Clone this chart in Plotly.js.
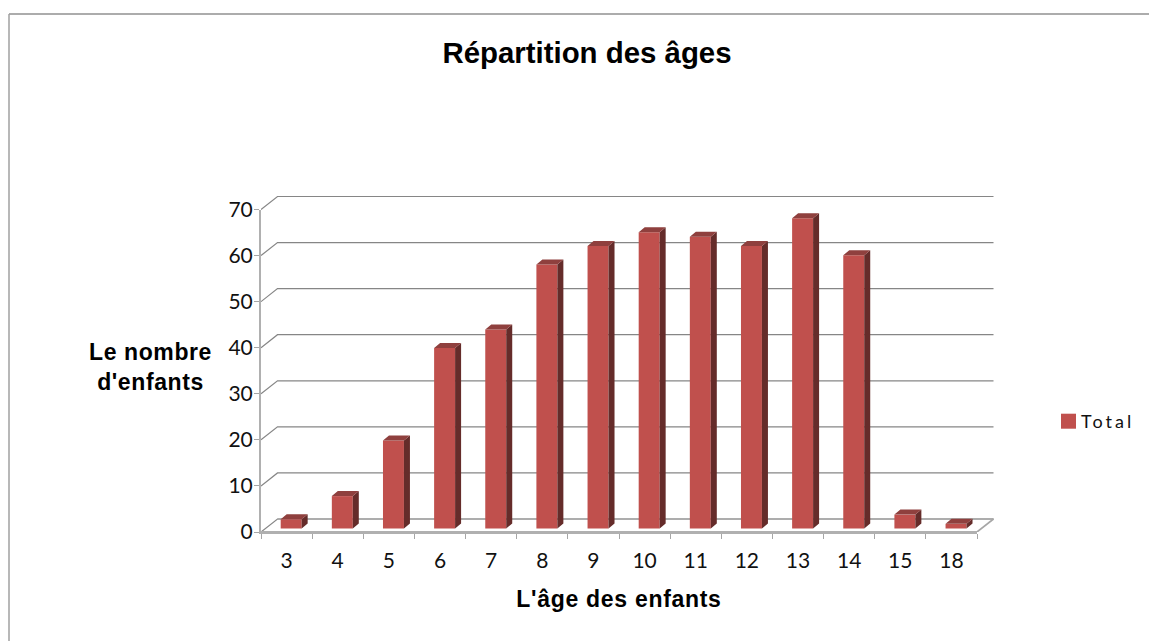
<!DOCTYPE html>
<html>
<head>
<meta charset="utf-8">
<script src="https://cdn.plot.ly/plotly-3.0.1.min.js"></script>
<style>
html,body{margin:0;padding:0;background:#fff}
#chart{width:1149px;height:641px}
.legendtext{letter-spacing:3px}
.legendpoints path{transform:translate(27.5px,0) scale(1.25)}
.annotation-text{letter-spacing:0.6px}
.g-x2title text{letter-spacing:0.7px}
</style>
</head>
<body>
<div id="chart"></div>
<script>
const ages = ['3','4','5','6','7','8','9','10','11','12','13','14','15','18'];
const totals = [2,7,19,39,43,57,61,64,63,61,67,59,3,1];
const yTicks = [0,10,20,30,40,50,60,70];

const W = 1149, H = 641;
// outer plotting box (holds the perspective walls)
const M = {l:261, r:153, t:194, b:109};
const pw = W-M.l-M.r, ph = H-M.t-M.b;
// front face of the chart
const frontW = 716, frontH = 322.5;
const idx = ages.map((_,i)=>i);
const xPx = frontW/ages.length;
const yPx = frontH/70;

// perspective of the bars, in axis units
const barW = 0.41, barShift = 0.09;
const barScale = 4.63, barBasePx = 3.5;
const dxBar = 6/xPx, dyBar = 5/barScale;
// perspective of the walls
const dxWall = 16.5/xPx, dyWall = 13/yPx;

// walls (axes x, y: outer box)
const gx=[], gy=[];
yTicks.forEach(v=>{
  gx.push(-0.5,-0.5+dxWall,ages.length-0.5+dxWall,null);
  gy.push(v,v+dyWall,v+dyWall,null);
});
const walls = {type:'scatter',mode:'lines',x:gx,y:gy,xaxis:'x',yaxis:'y',
  line:{color:'#868686',width:1.2},hoverinfo:'skip',showlegend:false};
const floorEdge = {type:'scatter',mode:'lines',
  x:[ages.length-0.5,ages.length-0.5+dxWall,null,-0.5+dxWall,ages.length-0.5+dxWall],
  y:[0,dyWall,null,dyWall,dyWall],xaxis:'x',yaxis:'y',
  line:{color:'#A6A6A6',width:1.6},hoverinfo:'skip',showlegend:false};
// front edge of the floor (axes x2, y2: front face)
const frontEdge = {type:'scatter',mode:'lines',x:[-0.5,ages.length-0.5],y:[0,0],xaxis:'x2',yaxis:'y2',
  line:{color:'#B0B0B0',width:2},hoverinfo:'skip',showlegend:false};

// bars + faces (axes x3, y3)
const sideX=[],sideY=[],topX=[],topY=[];
idx.forEach(i=>{
  const l=i+barShift-barW/2, r=i+barShift+barW/2, v=totals[i];
  sideX.push(r,r+dxBar,r+dxBar,r,r,null);
  sideY.push(0,dyBar,v+dyBar,v,0,null);
  topX.push(l,l+dxBar,r+dxBar,r,l,null);
  topY.push(v,v+dyBar,v+dyBar,v,v,null);
});
const bars = {type:'bar',name:'Total',x:idx,y:totals,xaxis:'x3',yaxis:'y3',
  width:barW,offset:barShift-barW/2,marker:{color:'#C0504D',line:{width:0}},showlegend:true};
const side = {type:'scatter',mode:'lines',x:sideX,y:sideY,xaxis:'x3',yaxis:'y3',fill:'toself',
  fillcolor:'#652C2A',line:{width:0,color:'#652C2A'},hoverinfo:'skip',showlegend:false};
const top_ = {type:'scatter',mode:'lines',x:topX,y:topY,xaxis:'x3',yaxis:'y3',fill:'toself',
  fillcolor:'#8F403E',line:{width:0,color:'#8F403E'},hoverinfo:'skip',showlegend:false};

const px = v=>(v-M.l)/pw, py = v=>1-(v-M.t)/ph;
const tickFont = {family:'Lato, "Open Sans", sans-serif',size:21,color:'#111'};
const boldFont = s=>({family:'"Liberation Sans", Arial, sans-serif',size:s,color:'#000',weight:700});
const xRange=[-0.5,ages.length-0.5];
const xDom=[0,frontW/pw], yDom=[0,frontH/ph];

const layout = {
  width:W,height:H,paper_bgcolor:'#fff',plot_bgcolor:'rgba(0,0,0,0)',
  margin:M,showlegend:true,barmode:'overlay',hovermode:false,
  title:{text:'Répartition des âges',font:boldFont(29.4),x:587/W,xref:'container',xanchor:'center',
         y:1-53/H,yref:'container',yanchor:'middle',pad:{t:0,b:0,l:0,r:0}},
  xaxis:{domain:[0,1],range:[-0.5,-0.5+pw/xPx],type:'linear',visible:false,anchor:'y'},
  yaxis:{domain:[0,1],range:[0,ph/yPx],type:'linear',visible:false,anchor:'x'},
  xaxis2:{domain:xDom,range:xRange,type:'linear',anchor:'y2',tickmode:'array',
    tickvals:[...idx.map(i=>i-0.5),ages.length-0.5],ticktext:[...idx.map(()=>''),''],
    ticks:'outside',ticklen:5,tickwidth:1.2,tickcolor:'#A6A6A6',showgrid:false,zeroline:false,
    showline:true,linecolor:'#B0B0B0',linewidth:2,
    title:{text:"L'âge des enfants",font:boldFont(23),standoff:50}},
  yaxis2:{domain:yDom,range:[0,70],type:'linear',anchor:'x2',tickmode:'array',tickvals:yTicks,ticks:'outside',ticklen:5,tickwidth:1.2,
    tickcolor:'#A6A6A6',showgrid:false,zeroline:false,showline:true,linecolor:'#B0B0B0',linewidth:2,
    tickfont:tickFont,ticklabelstandoff:-3},
  xaxis3:{range:xRange,type:'linear',overlaying:'x2',anchor:'y3',side:'bottom',tickmode:'array',tickvals:idx,ticktext:ages,
    ticks:'',showgrid:false,zeroline:false,showline:false,tickfont:tickFont,ticklabelstandoff:14},
  yaxis3:{range:[-barBasePx/barScale,(frontH-barBasePx)/barScale],type:'linear',overlaying:'y2',anchor:'x3',
    visible:false,showgrid:false,zeroline:false},
  legend:{xref:'container',yref:'container',x:1041/W,xanchor:'left',y:1-421.5/H,yanchor:'middle',bgcolor:'rgba(0,0,0,0)',
    font:{family:'Lato, "Open Sans", sans-serif',size:18,color:'#111'},itemclick:false,itemdoubleclick:false},
  annotations:[{text:"Le nombre<br>d'enfants",xref:'paper',yref:'paper',x:px(150),y:py(367),xanchor:'center',yanchor:'middle',
    showarrow:false,font:boldFont(23),align:'center'}],
  shapes:[
    {type:'line',xref:'paper',yref:'paper',x0:px(9),x1:px(1149),y0:py(14),y1:py(14),line:{color:'#909090',width:1.5}},
    {type:'line',xref:'paper',yref:'paper',x0:px(9),x1:px(9),y0:py(14),y1:py(641),line:{color:'#A0A0A0',width:1.5}}
  ]
};
Plotly.newPlot('chart',[walls,floorEdge,frontEdge,bars,side,top_],layout,{displayModeBar:false});
</script>
</body>
</html>
